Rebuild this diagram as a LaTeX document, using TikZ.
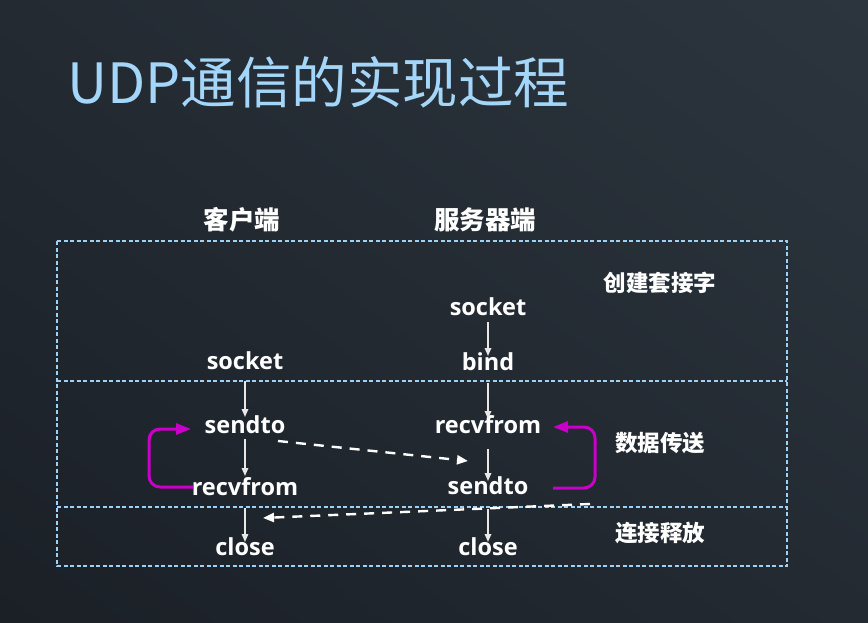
\documentclass[tikz,border=0pt]{standalone}
\usepackage{fontspec}
\setmainfont{Noto Sans CJK SC}
\newfontfamily\latinf{Open Sans}
\usetikzlibrary{arrows.meta,shadings}
\definecolor{bgA}{HTML}{1B2027}
\definecolor{bgB}{HTML}{2C353E}
\definecolor{bgC}{HTML}{232A32}
\definecolor{titlec}{HTML}{A3D6F8}
\definecolor{boxc}{HTML}{9DD1F5}
\definecolor{loopc}{HTML}{C800C8}
\definecolor{arrc}{HTML}{E8E8E8}
\tikzset{
  lbl/.style={text=white,font=\latinf\bfseries\fontsize{23.5}{26}\selectfont,anchor=base,inner sep=0pt},
  hdr/.style={text=white,font=\bfseries\fontsize{25.5}{28}\selectfont,inner sep=0pt},
  side/.style={text=white,font=\bfseries\fontsize{22.5}{26}\selectfont,inner sep=0pt},
  arr/.style={draw=arrc,line width=1.6pt,-{Triangle[length=8pt,width=6.5pt]}},
  xarr/.style={draw=white,line width=2.4pt,dash pattern=on 10pt off 8pt,-{Triangle[length=11pt,width=9pt]}},
  loop/.style={draw=loopc,line width=3pt,rounded corners=11pt,-{Triangle[length=15pt,width=11pt]}},
  frame/.style={draw=boxc,line width=1.1pt,dash pattern=on 4pt off 2.5pt}
}
\begin{document}
\begin{tikzpicture}[x=1pt,y=-1pt]
\useasboundingbox (0,0) rectangle (868,623);
\shade[lower left=bgA,upper right=bgB,upper left=bgC,lower right=bgC] (0,0) rectangle (868,623);
\node[anchor=base west,inner sep=0pt,text=titlec,font=\fontsize{55.5}{62}\selectfont] (title) at (67,104) {UDP通信的实现过程};
\node[hdr] (hC) at (242,220) {客户端};
\node[hdr] (hS) at (485,220) {服务器端};
\node[side] (s1) at (660,283) {创建套接字};
\node[side] (s2) at (660,443) {数据传送};
\node[side] (s3) at (660,533) {连接释放};
% frames
\draw[frame] (57,241) rectangle (787,566);
\draw[frame] (57,381) -- (787,381);
\draw[frame] (57,507) -- (787,507);
% labels
\node[lbl] (sockS) at (488,315) {socket};
\node[lbl] (bind) at (488,370) {bind};
\node[lbl] (sockC) at (245,369) {socket};
\node[lbl] (sendC) at (245,433) {sendto};
\node[lbl] (recvS) at (488,433) {recvfrom};
\node[lbl] (recvC) at (245,495) {recvfrom};
\node[lbl] (sendS) at (488,494) {sendto};
\node[lbl] (closeC) at (245,555) {close};
\node[lbl] (closeS) at (488,555) {close};
% vertical arrows
\draw[arr] ([yshift=-7pt]sockS.base) -- ([yshift=14pt]bind.base);
\draw[arr] ([yshift=-13pt]bind.base) -- ([yshift=14pt]recvS.base);
\draw[arr] ([yshift=-16pt]recvS.base) -- ([yshift=13pt]sendS.base);
\draw[arr] ([yshift=-15pt]sendS.base) -- ([yshift=13pt]closeS.base);
\draw[arr] ([yshift=-12pt]sockC.base) -- ([yshift=16pt]sendC.base);
\draw[arr] ([yshift=-6pt]sendC.base) -- ([yshift=19pt]recvC.base);
\draw[arr] ([yshift=-13pt]recvC.base) -- ([yshift=13pt]closeC.base);
% cross dashed arrows
\coordinate (d1s) at (278,441);
\coordinate (d1e) at (468,461);
\coordinate (d2s) at (590,504);
\coordinate (d2e) at (263,518);
\draw[xarr] (d1s) -- (d1e);
\draw[xarr] (d2s) -- (d2e);
% loops
\coordinate (l1s) at (193,487);
\coordinate (l1e) at (191,429);
\coordinate (l2s) at (553,488);
\coordinate (l2e) at (553,427);
\draw[loop] (l1s) -- (149,487) -- (149,429) -- (l1e);
\draw[loop] (l2s) -- (595,488) -- (595,427) -- (l2e);
\end{tikzpicture}
\end{document}
